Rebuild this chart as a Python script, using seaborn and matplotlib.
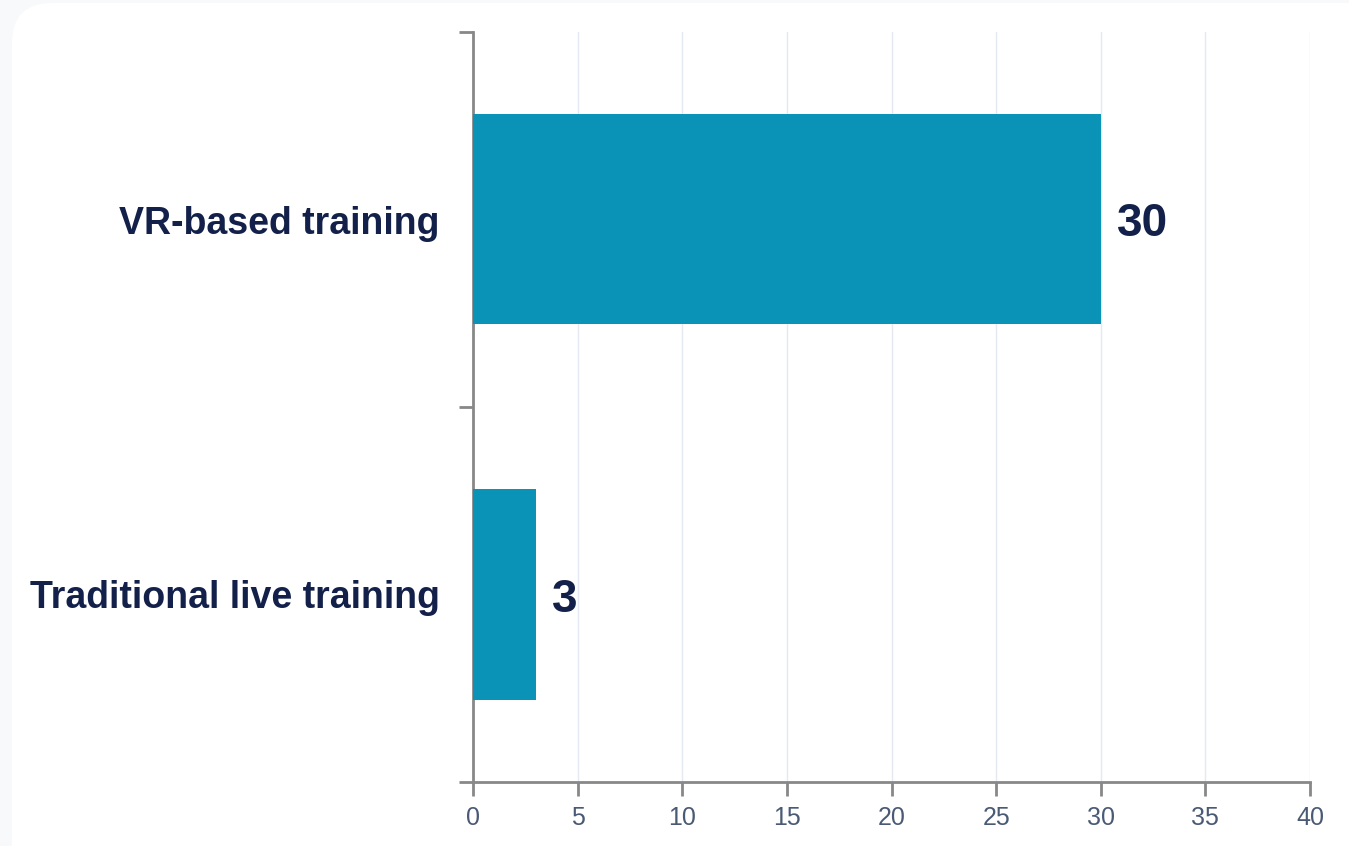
import matplotlib
matplotlib.use("Agg")
import matplotlib.pyplot as plt
import seaborn as sns
import pandas as pd
from matplotlib.patches import FancyBboxPatch

categories = ["VR-based training", "Traditional live training"]
values = [30, 3]
x_ticks = [0, 5, 10, 15, 20, 25, 30, 35, 40]

sns.set_theme(style="white")
plt.rcParams['font.family'] = ['Liberation Sans', 'DejaVu Sans']

W, H = 1349, 846
fig = plt.figure(figsize=(W / 100, H / 100), dpi=100)
fig.patch.set_facecolor("#f8f9fb")

card = FancyBboxPatch((12 / W, -0.1), 1.2, 1.1 - 3 / H,
                      boxstyle="round,pad=0,rounding_size=0.03",
                      transform=fig.transFigure, facecolor="white",
                      edgecolor="none", zorder=-10, mutation_aspect=W / H)
fig.add_artist(card)

ax = fig.add_axes([473 / W, 1 - 782 / H, (1310 - 473) / W, (782 - 32) / H])
ax.set_facecolor("none")

df = pd.DataFrame({"category": categories, "value": values})
sns.barplot(data=df, x="value", y="category", orient="h", color="#0a93b6",
            saturation=1, width=0.56, ax=ax, zorder=3, linewidth=0)

ax.set_xlim(0, 40)
ax.set_ylim(1.5, -0.5)
ax.set_xticks(x_ticks)
ax.set_xticklabels([str(t) for t in x_ticks], fontsize=18, color="#4a5a75")
ax.grid(axis="x", color="#e4e8f0", linewidth=1, zorder=0)
ax.set_axisbelow(True)

ax.set_yticks([0, 1])
ax.set_yticklabels(categories, fontsize=27, fontweight="bold", color="#13204a")
ax.set_yticks([-0.5, 0.5, 1.5], minor=True)
ax.tick_params(axis="y", which="major", length=0, pad=24)
ax.tick_params(axis="y", which="minor", length=10, width=2, color="#888888", direction="out", left=True)
ax.tick_params(axis="x", which="major", length=10, width=2, color="#888888", direction="out", bottom=True, pad=7)

for s in ["top", "right"]:
    ax.spines[s].set_visible(False)
for s in ["left", "bottom"]:
    ax.spines[s].set_color("#888888")
    ax.spines[s].set_linewidth(2)

ax.set_xlabel("")
ax.set_ylabel("")

for i, v in enumerate(values):
    ax.annotate(str(v), xy=(v, i), xytext=(12, 0), textcoords="offset points",
                ha="left", va="center_baseline", fontsize=33, fontweight="bold", color="#13204a")

fig.savefig("out.png", dpi=100, facecolor=fig.get_facecolor())
